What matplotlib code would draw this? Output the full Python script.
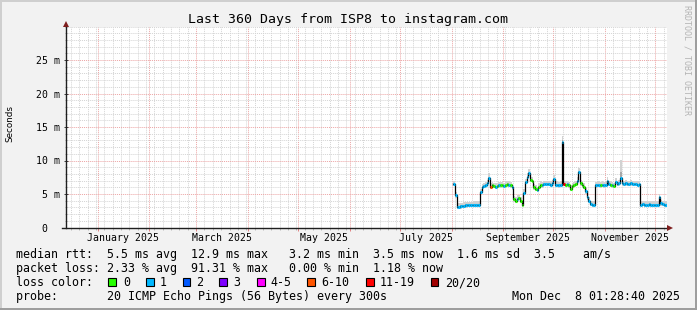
import matplotlib
matplotlib.use('Agg')
import numpy as np
import matplotlib.pyplot as plt
import matplotlib.dates as mdates
from matplotlib.patches import Rectangle
from matplotlib.ticker import MultipleLocator, FixedLocator
from datetime import datetime, timedelta

W, H = 697, 310
MONO = 'DejaVu Sans Mono'

# time range of the graph
end_time = datetime(2025, 12, 8, 1, 28, 40)
start_time = end_time - timedelta(days=360)
first_day = datetime(2025, 8, 2)   # first sample, one value per day after this

# median rtt per day (ms)
median_ms = [6.5, 4.8, 3.1, 3.1, 3.15, 3.2, 3.25, 3.3, 3.3, 3.35,
             3.35, 3.35, 3.4, 3.4, 3.4, 3.4, 5.3, 6.0, 6.2, 6.3,
             6.6, 7.4, 6.1, 6.3, 6.2, 6.1, 6.2, 6.3, 6.3, 6.4,
             6.2, 6.4, 6.5, 6.4, 6.3, 6.0, 4.2, 4.0, 4.3, 4.4,
             4.0, 3.4, 5.2, 6.8, 7.5, 8.1, 7.1, 7.0, 6.0, 5.8,
             5.6, 6.1, 6.4, 6.3, 6.5, 6.5, 6.5, 6.5, 6.4, 6.6,
             7.3, 6.4, 6.4, 6.3, 6.4, 12.8, 6.5, 6.4, 6.5, 6.3,
             5.8, 6.2, 6.3, 6.5, 7.0, 8.3, 6.6, 6.4, 6.1, 5.4,
             4.5, 4.0, 3.5, 3.4, 3.4, 6.3, 6.4, 6.4, 6.3, 6.4,
             6.3, 6.4, 7.0, 6.5, 6.4, 6.3, 6.2, 6.8, 6.5, 6.6,
             7.4, 6.6, 6.5, 6.6, 6.5, 6.5, 6.6, 6.5, 6.5, 6.5,
             6.4, 6.5, 3.4, 3.5, 3.4, 3.4, 3.4, 3.5, 3.4, 3.4,
             3.4, 3.4, 3.4, 4.5, 3.6, 3.5, 3.4, 3.4, 3.5]

# loss colour index per day (0 -> "0", 1 -> "1", 5 -> "6-10", 6 -> "11-19")
loss_level = [1, 1, 1, 1, 1, 1, 1, 1, 1, 1,
              1, 1, 1, 1, 1, 1, 1, 1, 1, 1,
              1, 1, 5, 0, 0, 1, 0, 1, 0, 0,
              1, 0, 0, 1, 0, 1, 0, 0, 1, 0,
              0, 0, 1, 1, 1, 1, 0, 0, 0, 0,
              1, 0, 0, 1, 1, 1, 1, 1, 1, 1,
              1, 1, 1, 1, 1, 1, 6, 0, 1, 0,
              0, 0, 0, 0, 1, 1, 0, 0, 0, 1,
              1, 1, 1, 1, 1, 1, 1, 1, 0, 1,
              1, 1, 1, 1, 0, 1, 0, 1, 1, 1,
              1, 1, 1, 1, 1, 1, 1, 1, 1, 1,
              1, 1, 1, 1, 1, 1, 1, 1, 1, 1,
              1, 1, 1, 1, 1, 1, 1, 1, 1]

# smoke extent above / below the median (ms)
smoke_up = [0.5, 0.5, 0.5, 0.5, 0.5, 0.5, 0.5, 0.5, 0.5, 0.5,
            0.5, 0.5, 0.5, 0.5, 0.5, 0.5, 0.5, 0.5, 0.5, 0.5,
            0.5, 0.7, 0.5, 0.5, 0.5, 0.5, 0.5, 0.5, 0.5, 0.5,
            0.5, 0.5, 0.5, 0.5, 0.5, 0.5, 0.5, 0.5, 0.5, 0.5,
            0.5, 0.5, 0.5, 0.5, 0.6, 0.6, 0.5, 0.5, 0.5, 0.5,
            0.5, 0.5, 0.5, 0.5, 0.5, 0.5, 0.5, 0.5, 0.5, 0.5,
            0.5, 0.5, 0.5, 0.5, 0.5, 0.8, 0.5, 0.5, 0.5, 0.5,
            0.5, 0.5, 0.5, 0.5, 0.5, 0.6, 0.5, 0.5, 0.5, 0.5,
            0.5, 0.5, 0.5, 0.5, 0.5, 0.5, 0.5, 0.5, 0.5, 0.5,
            0.5, 0.5, 0.5, 0.5, 0.5, 0.5, 0.5, 0.6, 0.5, 0.5,
            2.7, 0.5, 0.5, 0.5, 0.5, 0.5, 0.5, 0.5, 0.5, 0.5,
            0.5, 0.5, 0.5, 0.5, 0.5, 0.5, 0.5, 0.5, 0.5, 0.5,
            0.5, 0.5, 0.5, 0.5, 0.5, 0.5, 0.5, 0.5, 0.5]
smoke_dn = [0.35, 0.35, 0.35, 0.35, 0.35, 0.35, 0.35, 0.35, 0.35, 0.35,
            0.35, 0.35, 0.35, 0.35, 0.35, 0.35, 0.35, 0.35, 0.35, 0.35,
            0.35, 0.35, 0.35, 0.35, 0.35, 0.35, 0.35, 0.35, 0.35, 0.35,
            0.35, 0.35, 0.35, 0.35, 0.35, 0.35, 0.35, 0.35, 0.35, 0.35,
            0.35, 0.35, 0.35, 0.35, 0.35, 0.35, 0.35, 0.35, 0.35, 0.35,
            0.35, 0.35, 0.35, 0.35, 0.35, 0.35, 0.35, 0.35, 0.35, 0.35,
            0.35, 0.35, 0.35, 0.35, 0.35, 0.35, 0.35, 0.35, 0.35, 0.35,
            0.35, 0.35, 0.35, 0.35, 0.35, 0.35, 0.35, 0.35, 0.35, 0.35,
            0.35, 0.35, 0.35, 0.35, 0.35, 0.35, 0.35, 0.35, 0.35, 0.35,
            0.35, 0.35, 0.35, 0.35, 0.35, 0.35, 0.35, 0.35, 0.35, 0.35,
            0.35, 0.35, 0.35, 0.35, 0.35, 0.35, 0.35, 0.35, 0.35, 0.35,
            0.35, 0.35, 0.35, 0.35, 0.35, 0.35, 0.35, 0.35, 0.35, 0.35,
            0.35, 0.35, 0.35, 0.35, 0.35, 0.35, 0.35, 0.35, 0.35]

loss_labels = ['0', '1', '2', '3', '4-5', '6-10', '11-19', '20/20']
loss_colors = ['#26ff00', '#00b8ff', '#0059ff', '#7e00ff',
               '#ff00ff', '#ff5500', '#ff0000', '#a10000']

ytick_vals = [0, 5, 10, 15, 20, 25]
ytick_labels = [' 0  ', ' 5 m', '10 m', '15 m', '20 m', '25 m']
label_months = [1, 3, 5, 7, 9, 11]
month_labels = ['January 2025', 'March 2025', 'May 2025', 'July 2025',
                'September 2025', 'November 2025']

title = 'Last 360 Days from ISP8 to instagram.com'
row_rtt = 'median rtt:  5.5 ms avg  12.9 ms max   3.2 ms min  3.5 ms now  1.6 ms sd  3.5    am/s'
row_loss = 'packet loss: 2.33 % avg  91.31 % max   0.00 % min  1.18 % now'
row_probe = 'probe:       20 ICMP Echo Pings (56 Bytes) every 300s'
stamp = 'Mon Dec  8 01:28:40 2025'


def fx(px):
    return px / W


def fy(py):
    return 1 - py / H


fig = plt.figure(figsize=(W / 100, H / 100), dpi=100, facecolor='#f2f2f2')

# 3d frame round the image
for (x0, y0, w, h, c) in [(0, 0, 1.5, H, '#cfcfcf'), (0, 0, W, 1.5, '#cfcfcf'),
                          (W - 2, 0, 2, H, '#9e9e9e'), (0, H - 2, W, 2, '#9e9e9e')]:
    fig.patches.append(Rectangle((fx(x0), fy(y0 + h)), w / W, h / H,
                                 transform=fig.transFigure, color=c, lw=0))

ax = fig.add_axes([fx(66), fy(227.5), 601 / W, 201 / H])
ax.set_facecolor('white')
ax.set_xlim(start_time, end_time)
ax.set_ylim(0, 30)
for s in ax.spines.values():
    s.set_visible(False)
ax.set_axisbelow(True)

# grid
ax.set_yticks(ytick_vals)
ax.set_yticklabels(ytick_labels, family=MONO, size=7.1)
ax.yaxis.set_minor_locator(MultipleLocator(1))
ax.xaxis.set_major_locator(mdates.MonthLocator())
minor_x = [mdates.date2num(datetime(2024, 12, 1) + timedelta(days=5 * i)) for i in range(75)]
ax.xaxis.set_minor_locator(FixedLocator(minor_x))
ax.tick_params(axis='x', labelbottom=False)
ax.tick_params(axis='x', which='major', direction='out', length=2, width=0.7, color='#e08080')
ax.tick_params(axis='x', which='minor', direction='out', length=1.5, width=0.6, color='#b0b0b0')
ax.tick_params(axis='y', which='major', direction='inout', length=3, width=0.6, color='#1f1f1f', pad=20.1)
ax.tick_params(axis='y', which='minor', direction='inout', length=1.5, width=0.5, color='#909090')
for t in ax.get_yticklabels():
    t.set_ha('left')
ax.grid(True, which='minor', color='#d4d4d4', lw=0.7, ls=(0, (1, 1)))
ax.grid(True, which='major', color='#eca4a4', lw=0.7, ls=(0, (1, 1)))

# month labels, centred on the month
for m, lab in zip(label_months, month_labels):
    a = datetime(2025, m, 1)
    b = datetime(2025, m + 1, 1)
    ax.text(a + (b - a) / 2, -0.067, lab, transform=ax.get_xaxis_transform(),
            ha='center', va='baseline', family=MONO, size=7.1)

# smoke, median and loss colours
days = [first_day + timedelta(days=i) for i in range(len(median_ms))]
xe = mdates.date2num(days + [end_time])
med = np.array(median_ms)
up = np.array(smoke_up)
dn = np.array(smoke_dn)
hi = np.append(med + up, med[-1] + up[-1])
lo = np.append(med - dn, med[-1] - dn[-1])
ax.fill_between(xe, lo, hi, step='post', color='#d2d2d2', lw=0, zorder=2)
ax.fill_between(xe, np.append(med - 0.6 * dn, med[-1] - 0.6 * dn[-1]),
                np.append(med + 0.3 * up, med[-1] + 0.3 * up[-1]),
                step='post', color='#a8a8a8', lw=0, zorder=2)
ax.plot(xe, np.append(med, med[-1]), drawstyle='steps-post', color='black', lw=0.9, zorder=3)
ax.hlines(med, xe[:-1], xe[1:], colors=[loss_colors[i] for i in loss_level], lw=2.2, zorder=4)

# axes with arrows
ax.plot([-4 / 601, 602 / 601], [0, 0], transform=ax.transAxes, color='#1f1f1f', lw=1,
        clip_on=False, zorder=6)
ax.plot([0, 0], [0, 1], transform=ax.transAxes, color='#1f1f1f', lw=1, clip_on=False, zorder=6)
ax.plot([1.0058], [0], marker='>', ms=3.8, mew=0, color='#7f1f1f', transform=ax.transAxes,
        clip_on=False, zorder=7)
ax.plot([0], [1.0124], marker='^', ms=3.8, mew=0, color='#7f1f1f', transform=ax.transAxes,
        clip_on=False, zorder=7)

# texts
fig.text(fx(348.5), fy(23), title, ha='center', va='baseline', family=MONO, size=9.5)
fig.text(fx(10), fy(124), 'Seconds', rotation=90, ha='center', va='center',
         family='DejaVu Sans', size=6.3)
fig.text(fx(686.5), fy(5), 'RRDTOOL / TOBI OETIKER', rotation=270, ha='center', va='top',
         family=MONO, size=6, color='#b4b4b4')

fig.text(fx(15.5), fy(258.3), row_rtt, ha='left', va='baseline', family=MONO, size=8.4)
fig.text(fx(15.5), fy(272.3), row_loss, ha='left', va='baseline', family=MONO, size=8.4)
fig.text(fx(15.5), fy(286.3), 'loss color:', ha='left', va='baseline', family=MONO, size=8.4)
fig.text(fx(15.5), fy(300.3), row_probe, ha='left', va='baseline', family=MONO, size=8.4)
fig.text(fx(680.5), fy(300.3), stamp, ha='right', va='baseline', family=MONO, size=8.4)

box_x = [108.3, 145.7, 182.7, 219.3, 256.7, 307.3, 365.7, 430.5]
lab_x = [122.8, 159.5, 196.2, 232.8, 270.2, 321.2, 379.5, 444.8]
for bx, lx, col, lab in zip(box_x, lab_x, loss_colors, loss_labels):
    fig.patches.append(Rectangle((fx(bx), fy(285.8)), 7.8 / W, 8 / H, transform=fig.transFigure,
                                 facecolor=col, edgecolor='black', lw=0.8))
    fig.text(fx(lx), fy(286.3), lab, ha='left', va='baseline', family=MONO, size=8.4)

fig.savefig('out.png', dpi=100, facecolor=fig.get_facecolor())
